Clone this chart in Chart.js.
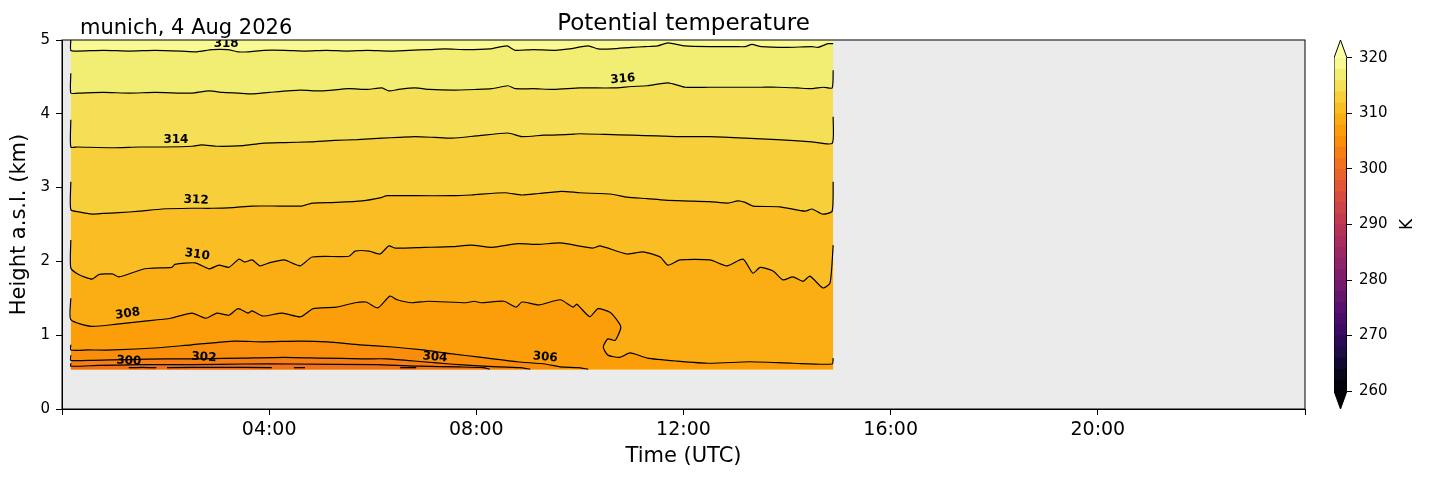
<!DOCTYPE html>
<html>
<head>
<meta charset="utf-8">
<title>Potential temperature</title>
<script src="https://cdn.jsdelivr.net/npm/chart.js@4.4.1/dist/chart.umd.min.js"></script>
<style>
  html, body { margin: 0; padding: 0; background: #fff; }
  #wrap { position: relative; width: 1429px; height: 478px; }
  #main { position: absolute; left: 0; top: 0; }
  #cbar { position: absolute; left: 1300px; top: 0; }
</style>
</head>
<body>
<div id="wrap">
  <canvas id="main" width="1429" height="478"></canvas>
  <canvas id="cbar" width="129" height="478"></canvas>
</div>
<script>
// ---- data: [time (h UTC), height (km)] ----
var tStart = 0.17, tEnd = 14.89, hBottom = 0.54, hTop = 5.0;

var levels = [300, 302, 304, 306, 308, 310, 312, 314, 316, 318];

var line300 = [[1.29,0.56],[1.55,0.565],[1.82,0.56],[1.92,null],[2.03,0.56],[3.0,0.565],[4.05,0.56],[4.3,null],
  [4.48,0.56],[4.69,0.56],[5.5,null],[6.53,0.56],[6.84,0.56]];
var line302 = [[0.17,0.62],[0.17,0.58],[0.7,0.59],[1.5,0.60],[2.5,0.60],[3.5,0.61],[4.5,0.61],[6.08,0.60],[6.91,0.58],[7.68,0.57],[8.13,0.56],[8.26,0.54]];
var line304 = [[0.17,0.73],[0.17,0.66],[0.6,0.66],[1.3,0.67],[2.0,0.68],[2.7,0.68],[3.5,0.69],[4.3,0.70],[5.0,0.69],[5.8,0.68],[6.28,0.68],
  [6.97,0.64],[7.49,0.61],[8.13,0.58],[8.84,0.56],[9.04,0.54]];
var line306 = [[0.17,0.87],[0.17,0.80],[0.5,0.80],[1.0,0.80],[1.87,0.83],[2.5,0.87],[3.34,0.92],[3.86,0.91],[4.6,0.92],[5.12,0.91],[5.75,0.87],
  [6.39,0.84],[6.97,0.80],[7.49,0.75],[8.1,0.70],[8.79,0.64],[9.33,0.61],[9.62,0.57],[9.96,0.56],[10.16,0.54]];
var line308 = [[0.17,1.50],[0.17,1.21],[0.56,1.12],[1.06,1.15],[1.60,1.19],[2.10,1.23],[2.51,1.30],[2.78,1.23],[2.99,1.30],[3.22,1.27],
  [3.40,1.36],[3.59,1.30],[3.67,1.33],[3.88,1.26],[4.25,1.30],[4.61,1.25],[4.85,1.36],[5.29,1.38],[5.66,1.44],[5.87,1.45],[6.10,1.37],
  [6.33,1.53],[6.47,1.48],[6.76,1.44],[7.07,1.46],[7.80,1.44],[7.96,1.46],[8.09,1.44],[8.53,1.46],[8.77,1.38],[8.88,1.45],[9.21,1.41],
  [9.62,1.48],[9.87,1.38],[9.94,1.42],[10.19,1.25],[10.35,1.36],[10.58,1.31],[10.74,1.18],[10.79,1.10],[10.68,0.93],[10.54,0.95],
  [10.45,0.84],[10.54,0.73],[10.77,0.70],[10.97,0.76],[11.30,0.69],[11.87,0.65],[12.51,0.62],[13.28,0.64],[14.11,0.62],[14.87,0.61],[14.89,0.69]];
var line310 = [[0.17,2.29],[0.17,1.91],[0.33,1.82],[0.58,1.76],[0.71,1.82],[0.97,1.83],[1.10,1.79],[1.6,1.90],[2.12,1.92],[2.18,1.96],
  [2.57,1.98],[2.84,1.90],[3.03,1.95],[3.22,1.92],[3.42,2.03],[3.53,1.99],[3.67,2.02],[3.82,1.94],[4.0,1.98],[4.29,2.02],[4.60,1.94],
  [4.83,2.06],[5.54,2.07],[5.66,2.14],[5.93,2.14],[6.14,2.10],[6.31,2.21],[6.43,2.18],[7.0,2.19],[7.53,2.20],[7.9,2.22],[8.3,2.19],
  [8.8,2.24],[9.2,2.23],[9.62,2.25],[10.25,2.18],[10.39,2.21],[10.91,2.10],[11.22,2.13],[11.55,2.06],[11.70,1.95],[11.93,2.02],
  [12.51,2.02],[12.84,1.94],[13.15,2.03],[13.34,1.84],[13.48,1.92],[13.73,1.87],[13.92,1.75],[14.11,1.79],[14.31,1.73],[14.44,1.80],
  [14.69,1.64],[14.83,1.71],[14.89,2.22]];
var line312 = [[0.17,3.08],[0.17,2.70],[0.33,2.67],[0.58,2.64],[0.8,2.65],[1.10,2.66],[1.5,2.68],[1.93,2.71],[2.5,2.72],[2.90,2.72],
  [3.3,2.73],[3.67,2.75],[4.2,2.75],[4.63,2.75],[4.83,2.79],[5.3,2.80],[5.8,2.82],[6.14,2.86],[6.28,2.89],[6.8,2.89],[7.53,2.89],
  [7.9,2.90],[8.55,2.93],[8.88,2.90],[9.2,2.92],[9.65,2.95],[10.0,2.93],[10.62,2.91],[10.91,2.87],[11.3,2.85],[11.64,2.83],[12.0,2.82],
  [12.5,2.81],[12.86,2.79],[13.05,2.82],[13.19,2.80],[13.34,2.75],[13.86,2.74],[14.35,2.68],[14.48,2.71],[14.69,2.64],[14.87,2.68],[14.89,3.08]];
var line314 = [[0.17,3.92],[0.17,3.55],[0.3,3.55],[0.97,3.54],[1.5,3.55],[2.0,3.55],[2.51,3.56],[2.7,3.58],[3.0,3.56],[3.5,3.57],
  [3.86,3.60],[4.3,3.61],[4.8,3.62],[5.27,3.64],[5.7,3.65],[6.18,3.67],[6.5,3.68],[6.82,3.69],[7.2,3.68],[7.53,3.67],[8.0,3.70],
  [8.61,3.74],[8.88,3.69],[9.3,3.71],[9.8,3.72],[10.0,3.73],[10.5,3.72],[11.0,3.71],[11.5,3.70],[11.89,3.69],[12.5,3.69],[13.19,3.67],
  [13.8,3.65],[14.48,3.62],[14.87,3.60],[14.89,3.96]];
var line316 = [[0.17,4.55],[0.17,4.28],[0.3,4.28],[0.8,4.29],[1.3,4.28],[1.8,4.29],[2.3,4.28],[2.51,4.28],[2.84,4.31],[3.1,4.29],
  [3.4,4.28],[3.67,4.27],[4.0,4.29],[4.6,4.32],[5.0,4.31],[5.54,4.34],[5.9,4.33],[6.18,4.35],[6.31,4.31],[6.5,4.33],[6.82,4.35],
  [7.1,4.33],[7.53,4.32],[8.0,4.33],[8.3,4.34],[8.61,4.38],[8.75,4.34],[9.1,4.34],[9.5,4.33],[10.0,4.35],[10.62,4.35],[11.0,4.37],
  [11.3,4.38],[11.70,4.42],[12.03,4.36],[12.5,4.36],[13.0,4.36],[13.5,4.36],[13.82,4.36],[14.2,4.35],[14.48,4.34],[14.7,4.36],
  [14.87,4.35],[14.89,4.59]];
var line318 = [[0.17,5.00],[0.17,4.86],[0.3,4.85],[0.8,4.86],[1.3,4.85],[1.8,4.86],[2.3,4.85],[2.6,4.84],[2.9,4.87],[3.2,4.87],
  [3.4,4.84],[3.6,4.84],[3.9,4.86],[4.3,4.86],[4.7,4.85],[5.1,4.86],[5.5,4.85],[5.9,4.86],[6.3,4.85],[6.7,4.86],[7.1,4.87],[7.4,4.88],
  [7.8,4.87],[8.26,4.88],[8.59,4.92],[8.75,4.86],[9.1,4.87],[9.52,4.86],[9.8,4.88],[10.16,4.92],[10.35,4.88],[10.62,4.88],[11.0,4.90],
  [11.26,4.91],[11.5,4.92],[11.70,4.96],[12.03,4.92],[12.5,4.91],[13.0,4.91],[13.19,4.91],[13.32,4.94],[13.5,4.91],[14.0,4.90],
  [14.48,4.91],[14.6,4.90],[14.79,4.95],[14.89,4.95]];
var topEdge = [[tStart, hTop], [tEnd, hTop]];

// inline contour labels
var labelText   = ['318', '316', '314', '312', '310', '308', '300', '302', '304', '306'];
var labelTime   = [3.17, 10.83, 2.20, 2.59, 2.61, 1.27, 1.29, 2.74, 7.20, 9.33];
var labelHeight = [4.95, 4.47, 3.64, 2.83, 2.09, 1.29, 0.65, 0.70, 0.70, 0.70];
var labelAngle  = [0, -5, 0, 2, 8, -8, 3, 3, 5, 5];

// axes
var xTickValues = [0, 4, 8, 12, 16, 20, 24];
var xTickLabels = ['', '04:00', '08:00', '12:00', '16:00', '20:00', ''];
var yTickValues = [0, 1, 2, 3, 4, 5];

// colour bar
var cbarLevels = [260, 262, 264, 266, 268, 270, 272, 274, 276, 278, 280, 282, 284, 286, 288,
                  290, 292, 294, 296, 298, 300, 302, 304, 306, 308, 310, 312, 314, 316, 318];
var cbarTicks = [260, 270, 280, 290, 300, 310, 320];
var cbMin = 256.76, cbMax = 323.24;

// ---- colours ----
var infernoStops = ['#000004','#08051e','#190c3e','#300a5b','#460b6a','#5c126e','#711a6e','#87216b','#9c2964','#b1325a',
                    '#c43c4e','#d64b40','#e55c30','#f1711f','#f8870e','#fca108','#fbba1f','#f6d543','#f1ed71','#fcffa4'];
function hexRgb(h) {
  return [parseInt(h.substr(1, 2), 16), parseInt(h.substr(3, 2), 16), parseInt(h.substr(5, 2), 16)];
}
function inferno(f) {
  f = Math.min(1, Math.max(0, f));
  var p = f * (infernoStops.length - 1);
  var i = Math.min(Math.floor(p), infernoStops.length - 2);
  var r = p - i, a = hexRgb(infernoStops[i]), b = hexRgb(infernoStops[i + 1]);
  return 'rgb(' + [0, 1, 2].map(function (k) { return Math.round(a[k] + (b[k] - a[k]) * r); }).join(',') + ')';
}
function bandColor(lo) { return inferno((lo + 1 - 260) / 60); }

function toPoints(arr) {
  return arr.map(function (p) { return {x: p[0], y: p[1]}; });
}

Chart.defaults.font.family = '"DejaVu Sans", sans-serif';
Chart.defaults.color = '#000';

// ---- main chart ----
var contourLines = [line300, line302, line304, line306, line308, line310, line312, line314, line316, line318];
var datasets = levels.map(function (lev, i) {
  return {
    label: String(lev),
    data: toPoints(contourLines[i]),
    borderColor: '#000',
    borderWidth: 1.2,
    pointRadius: 0,
    tension: 0.2,
    fill: {value: hBottom},
    backgroundColor: bandColor(lev - 2)
  };
});
datasets.push({
  label: 'top',
  data: toPoints(topEdge),
  borderWidth: 0,
  pointRadius: 0,
  fill: {value: hBottom},
  backgroundColor: bandColor(318)
});

var plotDecor = {
  id: 'plotDecor',
  beforeDraw: function (chart) {
    var a = chart.chartArea, ctx = chart.ctx;
    ctx.save();
    ctx.fillStyle = '#ebebeb';
    ctx.fillRect(a.left, a.top, a.right - a.left, a.bottom - a.top);
    ctx.restore();
  },
  afterDatasetsDraw: function (chart) {
    var a = chart.chartArea, ctx = chart.ctx;
    var xs = chart.scales.x, ys = chart.scales.y;
    ctx.save();
    ctx.beginPath();
    ctx.rect(a.left, a.top, a.right - a.left, a.bottom - a.top);
    ctx.clip();
    ctx.font = 'bold 12px "DejaVu Sans"';
    ctx.fillStyle = '#000';
    ctx.textAlign = 'center';
    ctx.textBaseline = 'middle';
    labelText.forEach(function (txt, i) {
      ctx.save();
      ctx.translate(xs.getPixelForValue(labelTime[i]), ys.getPixelForValue(labelHeight[i]));
      ctx.rotate(labelAngle[i] * Math.PI / 180);
      ctx.fillText(txt, 0, 0);
      ctx.restore();
    });
    ctx.restore();
    ctx.save();
    ctx.strokeStyle = '#000';
    ctx.lineWidth = 1;
    ctx.strokeRect(a.left, a.top, a.right - a.left, a.bottom - a.top);
    ctx.restore();
  },
  afterDraw: function (chart) {
    var a = chart.chartArea, ctx = chart.ctx;
    ctx.save();
    ctx.fillStyle = '#000';
    ctx.textBaseline = 'alphabetic';
    ctx.font = '23px "DejaVu Sans"';
    ctx.textAlign = 'center';
    ctx.fillText('Potential temperature', (a.left + a.right) / 2, 30);
    ctx.font = '21px "DejaVu Sans"';
    ctx.textAlign = 'left';
    ctx.fillText('munich, 4 Aug 2026', a.left + 18, 34);
    ctx.restore();
  }
};

new Chart(document.getElementById('main'), {
  type: 'line',
  data: {datasets: datasets},
  options: {
    responsive: false,
    animation: false,
    layout: {padding: {left: 0, right: 124, top: 40, bottom: 0}},
    plugins: {legend: {display: false}, tooltip: {enabled: false}, title: {display: false}},
    scales: {
      x: {
        type: 'linear', min: 0, max: 24,
        afterBuildTicks: function (s) { s.ticks = xTickValues.map(function (v) { return {value: v}; }); },
        afterFit: function (s) { s.height = 69; },
        ticks: {
          maxRotation: 0, autoSkip: false, padding: 4, font: {size: 19},
          callback: function (v) { return xTickLabels[xTickValues.indexOf(v)]; }
        },
        grid: {drawOnChartArea: false, drawTicks: true, tickLength: 6, color: '#000'},
        border: {display: true, color: '#000', width: 1},
        title: {display: true, text: 'Time (UTC)', font: {size: 21}, padding: {top: 0, bottom: 9}}
      },
      y: {
        type: 'linear', min: 0, max: 5,
        afterBuildTicks: function (s) { s.ticks = yTickValues.map(function (v) { return {value: v}; }); },
        afterFit: function (s) { s.width = 62; },
        ticks: {padding: 6, font: {size: 15}},
        grid: {drawOnChartArea: false, drawTicks: true, tickLength: 6, color: '#000'},
        border: {display: true, color: '#000', width: 1},
        title: {display: true, text: 'Height a.s.l. (km)', font: {size: 21}, padding: {top: 7, bottom: 0}}
      }
    }
  },
  plugins: [plotDecor]
});

// ---- colour bar ----
var cbDatasets = [{
  label: 'outline',
  data: toPoints([[0, 260], [0, 320], [0.5, cbMax], [1, 320], [1, 260], [0.5, cbMin], [0, 260]]),
  borderColor: '#000', borderWidth: 1, pointRadius: 0, tension: 0, fill: false
}];
cbarLevels.forEach(function (lo) {
  cbDatasets.push({
    data: toPoints([[0, lo + 2], [1, lo + 2]]),
    borderWidth: 0, pointRadius: 0, fill: {value: 260}, backgroundColor: bandColor(lo)
  });
});
cbDatasets.push({
  data: toPoints([[0, 320], [0.5, cbMax], [1, 320]]),
  borderWidth: 0, pointRadius: 0, tension: 0, fill: {value: 320}, backgroundColor: inferno(1)
});
cbDatasets.push({
  data: toPoints([[0, 260], [0.5, cbMin], [1, 260]]),
  borderWidth: 0, pointRadius: 0, tension: 0, fill: {value: 260}, backgroundColor: inferno(0)
});

var cbarLabel = {
  id: 'cbarLabel',
  afterDraw: function (chart) {
    var ctx = chart.ctx, ys = chart.scales.y;
    ctx.save();
    ctx.fillStyle = '#000';
    ctx.font = '17px "DejaVu Sans"';
    ctx.textAlign = 'center';
    ctx.textBaseline = 'middle';
    ctx.translate(108, ys.getPixelForValue(290));
    ctx.rotate(-Math.PI / 2);
    ctx.fillText('K', 0, 0);
    ctx.restore();
  }
};

new Chart(document.getElementById('cbar'), {
  type: 'line',
  data: {datasets: cbDatasets},
  options: {
    responsive: false,
    animation: false,
    layout: {padding: {left: 34, right: 0, top: 40, bottom: 69}},
    plugins: {legend: {display: false}, tooltip: {enabled: false}},
    scales: {
      x: {type: 'linear', min: 0, max: 1, display: false},
      y: {
        type: 'linear', position: 'right', min: cbMin, max: cbMax,
        afterBuildTicks: function (s) { s.ticks = cbarTicks.map(function (v) { return {value: v}; }); },
        afterFit: function (s) { s.width = 82; },
        ticks: {padding: 7, font: {size: 15}},
        grid: {drawOnChartArea: false, drawTicks: true, tickLength: 5, color: '#000'},
        border: {display: false}
      }
    }
  },
  plugins: [cbarLabel]
});
</script>
</body>
</html>
